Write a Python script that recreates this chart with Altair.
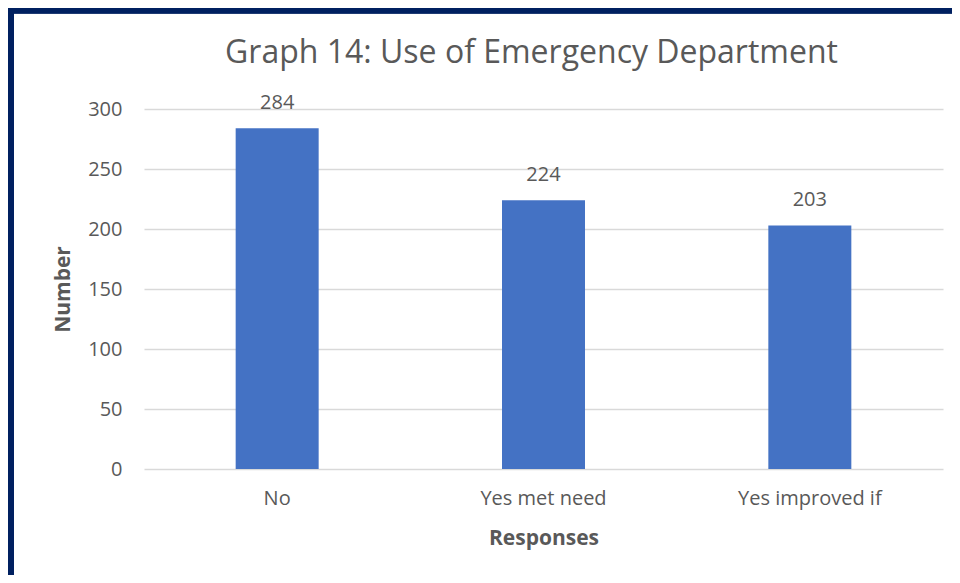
import altair as alt
import pandas as pd

categories = ["No", "Yes met need", "Yes improved if"]
values = [284, 224, 203]
title_text = ["Graph 14: Use of Emergency Department"]

df = pd.DataFrame({"Response": categories, "Number": values})
tdf = pd.DataFrame({"t": title_text})

FONT = "Open Sans"
GREY = "#595959"
NAVY = "#002060"

W, H = 799, 360
PAD_L, PAD_T, PAD_R, PAD_B = 136, 101, 9, 106

base = alt.Chart(df).encode(
    x=alt.X("Response:N", sort=categories, title="Responses",
            scale=alt.Scale(paddingInner=0.69, paddingOuter=0.345),
            axis=alt.Axis(labelAngle=0, labelFontSize=20, labelColor=GREY, labelFont=FONT,
                          labelPadding=19, ticks=False, domain=False,
                          titleFontSize=21, titleFontWeight="bold", titleColor=GREY,
                          titleFont=FONT, titlePadding=19)),
    y=alt.Y("Number:Q", title="Number",
            scale=alt.Scale(domain=[0, 300]),
            axis=alt.Axis(values=[0, 50, 100, 150, 200, 250, 300], labelFontSize=20,
                          labelColor=GREY, labelFont=FONT, labelPadding=22, ticks=False,
                          domain=False, gridColor="#d9d9d9", gridWidth=1.5,
                          titleFontSize=21, titleFontWeight="bold", titleColor=GREY,
                          titleFont=FONT, titlePadding=14)),
)

bars = base.mark_bar(color="#4472c4", size=83)
labels = base.mark_text(dy=-25, fontSize=20, color=GREY, font=FONT, baseline="middle").encode(
    text=alt.Text("Number:Q"))

title = alt.Chart(tdf).mark_text(fontSize=32, font=FONT, color=GREY, align="center",
                                 baseline="alphabetic").encode(
    text="t:N", x=alt.value(387.5), y=alt.value(-46))

top_border = alt.Chart(df).mark_rule(color=NAVY, strokeWidth=6).encode(
    x=alt.value(-PAD_L), x2=alt.value(W + PAD_R), y=alt.value(-PAD_T + 2.5))
left_border = alt.Chart(df).mark_rule(color=NAVY, strokeWidth=6).encode(
    x=alt.value(-PAD_L + 3), y=alt.value(-PAD_T), y2=alt.value(H + PAD_B))

chart = alt.layer(bars, labels, title, top_border, left_border).properties(
    width=W, height=H,
    autosize=alt.AutoSizeParams(type="none"),
    padding={"left": PAD_L, "top": PAD_T, "right": PAD_R, "bottom": PAD_B},
    background="white",
).configure_view(stroke=None)

chart.save("out.html", embed_options={"renderer": "svg", "actions": False})
